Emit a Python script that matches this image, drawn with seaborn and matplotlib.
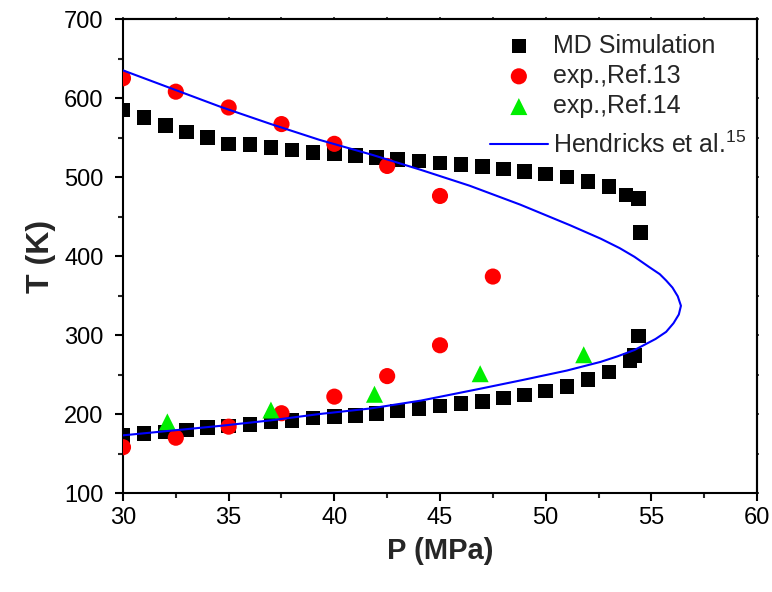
import matplotlib
matplotlib.use("Agg")
import matplotlib.pyplot as plt
import pandas as pd
import seaborn as sns
from matplotlib.ticker import MultipleLocator

# MD simulation (upper and lower branch)
md_up_p = [30, 31, 32, 33, 34, 35, 36, 37, 38, 39, 40, 41, 42, 43, 44, 45, 46,
           47, 48, 49, 50, 51, 52, 53, 53.8, 54.4, 54.5]
md_up_t = [585, 575, 565, 557, 550, 542, 541, 537, 534, 531, 529, 527, 525,
           522, 520, 518, 516, 513, 510, 507, 504, 500, 494, 488, 477, 473, 430]
md_lo_p = [30, 31, 32, 33, 34, 35, 36, 37, 38, 39, 40, 41, 42, 43, 44, 45, 46,
           47, 48, 49, 50, 51, 52, 53, 54.0, 54.2, 54.4]
md_lo_t = [173, 175, 177, 180, 183, 185, 187, 190, 192, 195, 197, 198, 201,
           204, 207, 210, 213, 216, 220, 224, 229, 235, 244, 253, 268, 274, 299]

# exp., Ref.13
ref13_p = [30, 32.5, 35, 37.5, 40, 42.5, 45, 47.5,
           30, 32.5, 35, 37.5, 40, 42.5, 45]
ref13_t = [625, 608, 588, 567, 542, 514, 476, 374,
           158, 170, 184, 201, 222, 248, 287]

# exp., Ref.14
ref14_p = [32.1, 37.0, 41.9, 46.9, 51.8]
ref14_t = [190, 205, 225, 251, 275]

hend_p = [30.0, 32.0, 34.6, 37.0, 39.3, 41.8, 44.1, 46.4, 48.8, 51.15, 52.6,
          53.5, 54.2, 54.9, 55.4, 55.7, 56.0, 56.25, 56.4, 56.3, 56.05, 55.7,
          55.2, 54.2, 53.4, 52.6, 51.0, 48.9, 46.9, 44.1, 41.7, 39.3, 37.0,
          34.6, 32.3, 30.0]
hend_t = [635, 615, 589, 567, 547, 528, 509, 489, 465, 439, 422,
          410, 399, 386, 377, 369, 360, 349, 337, 326, 315, 304,
          295, 281, 273, 266, 255, 243, 232, 217, 207, 200, 192,
          185, 179, 173]

sns.set_style("ticks")
plt.rcParams["font.family"] = ["Liberation Sans", "DejaVu Sans"]
plt.rcParams["mathtext.fontset"] = "custom"
plt.rcParams["mathtext.rm"] = "Liberation Sans"

md = pd.DataFrame({"P": md_up_p + md_lo_p, "T": md_up_t + md_lo_t})
r13 = pd.DataFrame({"P": ref13_p, "T": ref13_t})
r14 = pd.DataFrame({"P": ref14_p, "T": ref14_t})
hend = pd.DataFrame({"P": hend_p, "T": hend_t})

fig = plt.figure(figsize=(7.72, 5.92), dpi=100)
ax = fig.add_axes([0.1593, 0.1672, 0.8213, 0.8007])

sns.scatterplot(data=md, x="P", y="T", marker="s", s=110, color="black",
                edgecolor="none", label="MD Simulation", ax=ax, zorder=3)
sns.scatterplot(data=r13, x="P", y="T", marker="o", s=135, color="red",
                edgecolor="none", label="exp.,Ref.13", ax=ax, zorder=4)
sns.scatterplot(data=r14, x="P", y="T", marker="^", s=150, color="#00ee00",
                edgecolor="none", label="exp.,Ref.14", ax=ax, zorder=4)
sns.lineplot(data=hend, x="P", y="T", sort=False, estimator=None, color="blue",
             lw=1.5, label="Hendricks et al.$^{15}$", ax=ax, zorder=5)

ax.set_xlim(30, 60)
ax.set_ylim(100, 700)
ax.xaxis.set_major_locator(MultipleLocator(5))
ax.xaxis.set_minor_locator(MultipleLocator(2.5))
ax.yaxis.set_major_locator(MultipleLocator(100))
ax.yaxis.set_minor_locator(MultipleLocator(50))
ax.tick_params(which="major", direction="out", length=6, width=1.5,
               labelsize=17, colors="black")
ax.tick_params(axis="y", which="major", pad=8)
ax.tick_params(axis="x", which="major", pad=4)
ax.tick_params(which="minor", direction="out", length=3.5, width=1.5)
for sp in ax.spines.values():
    sp.set_visible(True)
    sp.set_linewidth(1.5)
    sp.set_color("black")

# little ticks on top and right
top = ax.secondary_xaxis("top")
top.xaxis.set_major_locator(MultipleLocator(2.5))
top.tick_params(direction="out", length=1.5, width=1.2, labeltop=False)
right = ax.secondary_yaxis("right")
right.yaxis.set_major_locator(MultipleLocator(50))
right.tick_params(direction="out", length=1.5, width=1.2, labelright=False)
for s in (top, right):
    for sp in s.spines.values():
        sp.set_linewidth(1.5)

ax.set_xlabel("P (MPa)", fontsize=21, fontweight="bold", labelpad=6)
ax.set_ylabel("T (K)", fontsize=23, fontweight="bold", labelpad=6)

h, l = ax.get_legend_handles_labels()
leg1 = ax.legend(h[:3], l[:3], loc="center left", bbox_to_anchor=(0.579, 0.880),
                 frameon=False, fontsize=18, handlelength=2.3, handletextpad=0.2,
                 labelspacing=0.25, borderpad=0, borderaxespad=0)
ax.add_artist(leg1)
ax.legend(h[3:], l[3:], loc="center left", bbox_to_anchor=(0.579, 0.735),
          frameon=False, fontsize=18, handlelength=2.3, handletextpad=0.2,
          borderpad=0, borderaxespad=0)

fig.savefig("out.png", dpi=100)
